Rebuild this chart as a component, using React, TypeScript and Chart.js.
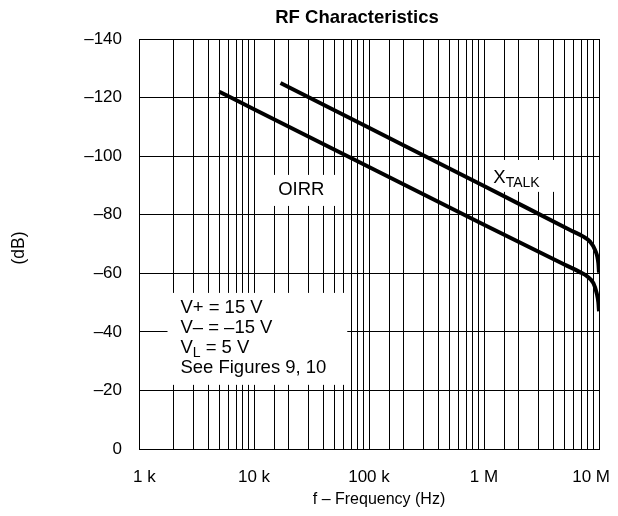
import React, { useEffect, useRef } from "react";
import { Chart, registerables } from "chart.js";

Chart.register(...registerables);

const FONT = "'Liberation Sans', Arial, Helvetica, sans-serif";

// ---- data ----
const titleText = "RF Characteristics";
const xAxisTitle = "f – Frequency (Hz)";
const yAxisTitle = "(dB)";

const xTickValues = [1e3, 1e4, 1e5, 1e6, 1e7];
const xTickLabels = ["1 k", "10 k", "100 k", "1 M", "10 M"];
const yMin = 0;
const yMax = 140;
const yStep = 20;

const oirrFreq = [5000, 10000, 100000, 1000000, 5000000, 6830000, 7870000, 8950000, 9550000, 9870000, 10000000];
const oirrDb = [122, 116, 96.3, 76.6, 63, 60.4, 59.0, 56.6, 53.2, 50, 47];

const xtalkFreq = [17000, 100000, 1000000, 5600000, 7310000, 8350000, 9230000, 9870000, 10000000];
const xtalkDb = [125, 109.7, 89.8, 74.8, 72.5, 70.8, 68.0, 63.4, 60.2];

const conditionLines = ["V+ = 15 V", "V– = –15 V", "V|L| = 5 V", "See Figures 9, 10"];

const yTickLabel = (v: number) => (v === 0 ? "0" : "–" + v);

const decorPlugin = {
  id: "decor",
  beforeDatasetsDraw(chart: any) {
    const { ctx, scales } = chart;
    const x = scales.x;
    const y = scales.y;
    const X = (f: number) => x.getPixelForValue(f);
    const Y = (v: number) => y.getPixelForValue(v);
    ctx.save();
    ctx.fillStyle = "#fff";
    const rect = (f1: number, f2: number, v1: number, v2: number) =>
      ctx.fillRect(X(f1), Y(v1), X(f2) - X(f1), Y(v2) - Y(v1));
    rect(12.6e3, 56e3, 93.6, 83.0);
    rect(1.09e6, 4.58e6, 98.7, 87.8);
    rect(1.77e3, 64.7e3, 53.3, 21.9);

    ctx.fillStyle = "#000";
    ctx.font = `18.5px ${FONT}`;
    ctx.textAlign = "center";
    ctx.textBaseline = "middle";
    ctx.fillText("OIRR", X(25.8e3), Y(88.6));

    // X_TALK
    ctx.textAlign = "left";
    ctx.textBaseline = "alphabetic";
    const xtX = X(1.205e6);
    const xtY = Y(90.9);
    ctx.font = `18.5px ${FONT}`;
    ctx.fillText("X", xtX, xtY);
    const wX = ctx.measureText("X").width;
    ctx.font = `14px ${FONT}`;
    ctx.fillText("TALK", xtX + wX, xtY + 4);

    // conditions
    const lx = X(2.29e3);
    let by = Y(46.4);
    for (const line of conditionLines) {
      const parts = line.split("|");
      let cx = lx;
      parts.forEach((p, i) => {
        const sub = i % 2 === 1;
        ctx.font = sub ? `14px ${FONT}` : `18.5px ${FONT}`;
        ctx.fillText(p, cx, by + (sub ? 4 : 0));
        cx += ctx.measureText(p).width;
      });
      by += 20;
    }
    ctx.restore();
  },
  afterDraw(chart: any) {
    const { ctx, chartArea } = chart;
    const x = chart.scales.x;
    ctx.save();
    ctx.fillStyle = "#000";
    ctx.font = `17px ${FONT}`;
    ctx.textAlign = "left";
    ctx.textBaseline = "middle";
    const ly = chartArea.bottom + 28;
    xTickValues.forEach((v, i) => {
      const label = xTickLabels[i];
      const w = ctx.measureText(label).width;
      let left = x.getPixelForValue(v) - w / 2;
      if (left < chartArea.left - 6) left = chartArea.left - 6;
      if (left + w > chartArea.right + 11) left = chartArea.right + 11 - w;
      ctx.fillText(label, left, ly);
    });

    // title
    ctx.textAlign = "center";
    ctx.font = `bold 18.5px ${FONT}`;
    ctx.fillText(titleText, (chartArea.left + chartArea.right) / 2 - 12, 18);

    // x title
    ctx.font = `16px ${FONT}`;
    ctx.fillText(xAxisTitle, (chartArea.left + chartArea.right) / 2 + 10, chartArea.bottom + 51);

    // y title
    ctx.font = `17.5px ${FONT}`;
    ctx.translate(19, (chartArea.top + chartArea.bottom) / 2 + 4);
    ctx.rotate(-Math.PI / 2);
    ctx.fillText(yAxisTitle, 0, 0);
    ctx.restore();
  },
};

export default function App() {
  const ref = useRef<HTMLCanvasElement | null>(null);
  useEffect(() => {
    if (!ref.current) return;
    const chart = new Chart(ref.current, {
      type: "line",
      data: {
        datasets: [
          {
            label: "OIRR",
            data: oirrFreq.map((f, i) => ({ x: f, y: oirrDb[i] })),
            borderColor: "#000",
            borderWidth: 4,
            pointRadius: 0,
            fill: false,
            cubicInterpolationMode: "monotone",
          },
          {
            label: "XTALK",
            data: xtalkFreq.map((f, i) => ({ x: f, y: xtalkDb[i] })),
            borderColor: "#000",
            borderWidth: 4,
            pointRadius: 0,
            fill: false,
            cubicInterpolationMode: "monotone",
          },
        ],
      },
      options: {
        animation: false,
        responsive: false,
        layout: { padding: { left: 0, right: 19, top: 39, bottom: 0 } },
        plugins: {
          legend: { display: false },
          tooltip: { enabled: false },
          title: { display: false },
        },
        scales: {
          x: {
            type: "logarithmic",
            min: 1e3,
            max: 1e7,
            position: "bottom",
            grid: { color: "#000", lineWidth: 1, drawTicks: false },
            border: { color: "#000", width: 1 },
            ticks: { display: false, autoSkip: false },
            afterFit: (s: any) => {
              s.height = 67;
            },
          },
          y: {
            type: "linear",
            min: yMin,
            max: yMax,
            grid: { color: "#000", lineWidth: 1, drawTicks: false },
            border: { color: "#000", width: 1 },
            ticks: {
              stepSize: yStep,
              padding: 17,
              color: "#000",
              font: { family: FONT, size: 17 },
              callback: (v: any) => yTickLabel(Number(v)),
            },
            afterFit: (s: any) => {
              s.width = 139;
            },
          },
        },
      },
      plugins: [decorPlugin],
    } as any);
    return () => chart.destroy();
  }, []);
  return (
    <div style={{ position: "fixed", left: 0, top: 0, width: 618, height: 516, background: "#fff" }}>
      <canvas ref={ref} width={618} height={516} style={{ display: "block", width: 618, height: 516 }} />
    </div>
  );
}
